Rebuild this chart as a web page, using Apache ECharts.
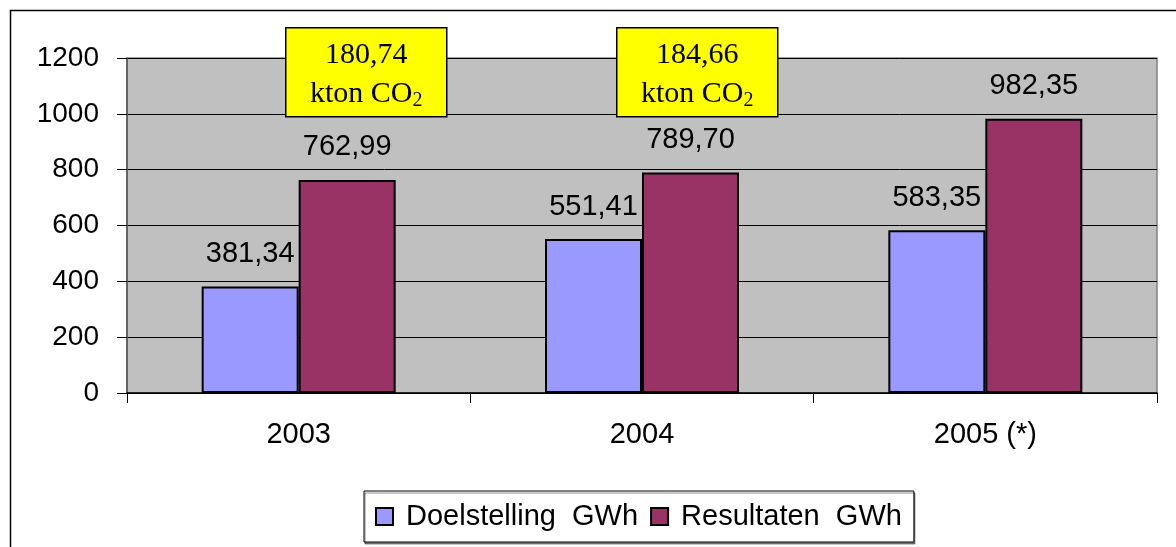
<!DOCTYPE html>
<html>
<head>
<meta charset="utf-8">
<script src="https://cdn.jsdelivr.net/npm/echarts@6/dist/echarts.min.js"></script>
<style>
  html, body { margin: 0; padding: 0; background: #fff; }
  #chart { width: 1176px; height: 547px; }
</style>
</head>
<body>
<div id="chart"></div>
<script>
const categories = ['2003', '2004', '2005 (*)'];
const doelstelling = [381.34, 551.41, 583.35];
const resultaten = [762.99, 789.70, 982.35];
const co2Values = ['180,74', '184,66'];
const seriesNames = ['Doelstelling  GWh', 'Resultaten  GWh'];

const SANS = 'Liberation Sans';
const SERIF = 'Liberation Serif';

const chart = echarts.init(document.getElementById('chart'));

const fmt = p => p.value.toFixed(2).replace('.', ',');

function co2Box(x, val) {
  return {
    type: 'group',
    left: x, top: 27, z: 100,
    children: [
      { type: 'rect', z: 100, shape: { x: 0, y: 0, width: 161, height: 89 },
        style: { fill: '#FFFF00', stroke: '#000', lineWidth: 1.5 } },
      { type: 'text', z: 101, x: 80.5, y: 27,
        style: { text: val, align: 'center', verticalAlign: 'middle',
                 font: '30px "Liberation Serif"', fill: '#000' } },
      { type: 'text', z: 101, x: 80.5, y: 66,
        style: {
          text: '{a|kton CO}{s|2}',
          align: 'center', verticalAlign: 'middle',
          rich: {
            a: { fontFamily: SERIF, fontSize: 30, lineHeight: 30, color: '#000' },
            s: { fontFamily: SERIF, fontSize: 20, lineHeight: 20, color: '#000', padding: [14, 0, 0, 0] }
          }
        } }
    ]
  };
}

const option = {
  animation: false,
  backgroundColor: '#fff',
  grid: { left: 127, top: 58, right: 19, bottom: 154, show: true, backgroundColor: '#C0C0C0', borderColor: '#808080', borderWidth: 1.5 },
  xAxis: {
    type: 'category',
    data: categories,
    axisLine: { lineStyle: { color: '#000', width: 1.5 } },
    axisTick: { show: true, length: 10, lineStyle: { color: '#000' } },
    axisLabel: { fontFamily: SANS, fontSize: 29, color: '#000', margin: 27 }
  },
  yAxis: {
    type: 'value',
    min: 0, max: 1200, interval: 200,
    axisLine: { show: true, lineStyle: { color: '#555', width: 1.5 } },
    axisTick: { show: true, length: 10, lineStyle: { color: '#000' } },
    splitLine: { lineStyle: { color: '#000', width: 1 } },
    axisLabel: { fontFamily: SANS, fontSize: 28, color: '#000', margin: 28, formatter: v => String(v) }
  },
  legend: {
    left: 364, top: 491,
    padding: [11, 12, 11, 11],
    backgroundColor: '#fff',
    borderColor: '#000', borderWidth: 1,
    shadowColor: 'rgba(0,0,0,0.45)', shadowOffsetX: 1, shadowOffsetY: 2, shadowBlur: 0,
    itemWidth: 17, itemHeight: 17, itemGap: 12,
    icon: 'rect',
    textStyle: { fontFamily: SANS, fontSize: 29, color: '#000', padding: [0, 0, 0, 8] },
    data: seriesNames
  },
  series: [
    {
      name: seriesNames[0], type: 'bar', data: doelstelling,
      barWidth: 97, barGap: '0%',
      itemStyle: { color: '#9999FF', borderColor: '#000', borderWidth: 2 },
      label: { show: true, position: 'top', distance: 18, formatter: fmt, fontFamily: SANS, fontSize: 29, color: '#000' }
    },
    {
      name: seriesNames[1], type: 'bar', data: resultaten,
      barWidth: 97, barGap: '0%',
      itemStyle: { color: '#993366', borderColor: '#000', borderWidth: 2 },
      label: { show: true, position: 'top', distance: 18, formatter: fmt, fontFamily: SANS, fontSize: 29, color: '#000' }
    }
  ],
  graphic: [
    { type: 'rect', left: 8, top: 8, shape: { x: 0, y: 0, width: 1200, height: 600 },
      style: { fill: 'none', stroke: '#000', lineWidth: 1.5 }, silent: true, z: -1 },
    co2Box(285, co2Values[0]),
    co2Box(616, co2Values[1])
  ]
};
chart.setOption(option);
</script>
</body>
</html>
